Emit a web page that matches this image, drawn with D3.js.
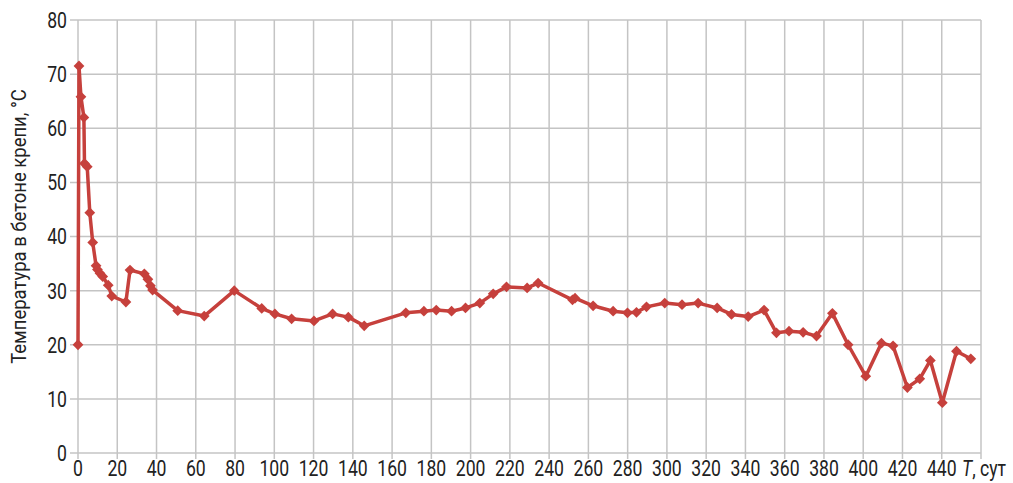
<!DOCTYPE html>
<html>
<head>
<meta charset="utf-8">
<script src="https://cdn.jsdelivr.net/npm/d3@7"></script>
<style>
  html, body { margin: 0; padding: 0; background: #fff; }
  svg { display: block; }
  text { font-family: "Roboto", "Liberation Sans", sans-serif; fill: #222; }
</style>
</head>
<body>
<svg id="chart" width="1013" height="483"></svg>
<script>
// Concrete lining temperature over time (days)
const days = [0, 0.5, 1.5, 3, 3.3, 4.7, 6, 7.5, 9.2, 9.9, 11.2, 12.6, 15.4, 17.2, 24.4, 26.5,
  33.8, 35.6, 36.9, 38, 50.8, 64.3, 79.6, 93.6, 100.3, 108.8, 120.2, 129.7, 137.7, 145.8,
  167, 176.2, 182.5, 190.3, 197.4, 204.7, 211.5, 218.3, 228.8, 234.4, 251.9, 253.2, 262.4,
  272.6, 279.9, 284.5, 289.6, 298.9, 307.7, 315.9, 325.6, 332.9, 341.4, 349.5, 355.8, 362.2,
  369.4, 376.2, 384.3, 392.3, 401.3, 409.3, 415.2, 422.5, 428.8, 434.2, 440.3, 447.5, 454.8];
const temps = [20, 71.5, 65.8, 62.0, 53.5, 52.9, 44.4, 38.9, 34.6, 33.9, 33.2, 32.6, 31.0, 29.0, 27.9, 33.8,
  33.1, 32.1, 30.9, 30.1, 26.3, 25.3, 30.0, 26.7, 25.7, 24.8, 24.4, 25.7, 25.1, 23.5,
  25.9, 26.2, 26.4, 26.2, 26.8, 27.7, 29.4, 30.7, 30.5, 31.4, 28.3, 28.6, 27.2,
  26.2, 25.9, 26.0, 27.0, 27.7, 27.4, 27.7, 26.8, 25.6, 25.2, 26.4, 22.2, 22.5,
  22.3, 21.6, 25.8, 20.0, 14.2, 20.3, 19.8, 12.1, 13.7, 17.1, 9.3, 18.8, 17.4];
const xTicks = d3.range(0, 461, 20);
const yTicks = d3.range(0, 81, 10);
const yTitle = "Температура в бетоне крепи, °С";
const xUnit = ", сут";

const svg = d3.select("#chart");
const m = { left: 78, right: 981, top: 20, bottom: 453 };
const x = d3.scaleLinear().domain([0, 460]).range([m.left, m.right]);
const y = d3.scaleLinear().domain([0, 80]).range([m.bottom, m.top]);
const gridColor = "#c4c4c4";
const squeeze = 0.8; // condensed look for tick labels

// grid
svg.append("g").selectAll("line").data(xTicks).join("line")
  .attr("x1", d => x(d)).attr("x2", d => x(d))
  .attr("y1", m.top).attr("y2", m.bottom + 6)
  .attr("stroke", gridColor).attr("stroke-width", 1.5);
svg.append("g").selectAll("line").data(yTicks).join("line")
  .attr("x1", m.left - 8).attr("x2", m.right)
  .attr("y1", d => y(d)).attr("y2", d => y(d))
  .attr("stroke", gridColor).attr("stroke-width", 1.5);

// tick labels
svg.append("g").selectAll("text").data(yTicks).join("text")
  .attr("transform", d => `translate(${m.left - 11},${y(d)}) scale(${squeeze},1)`)
  .attr("dy", "0.36em").attr("text-anchor", "end")
  .style("font-size", "22px").text(d => d);
svg.append("g").selectAll("text").data(xTicks.filter(d => d < 460)).join("text")
  .attr("transform", d => `translate(${x(d)},476) scale(${squeeze},1)`)
  .attr("text-anchor", "middle")
  .style("font-size", "22px").text(d => d);
const unit = svg.append("text")
  .attr("transform", `translate(${x(460) + 3},476) scale(${squeeze},1)`)
  .attr("text-anchor", "middle").style("font-size", "22px");
unit.append("tspan").style("font-style", "italic").text("T");
unit.append("tspan").text(xUnit);

// axis title
svg.append("text")
  .attr("transform", `translate(26,${(m.top + m.bottom) / 2 - 10}) rotate(-90) scale(0.88,1)`)
  .attr("text-anchor", "middle")
  .style("font-size", "21px").text(yTitle);

// series
const pts = days.map((d, i) => [d, temps[i]]);
const color = "#c6403c";
svg.append("path").datum(pts)
  .attr("fill", "none").attr("stroke", color).attr("stroke-width", 3.5)
  .attr("stroke-linejoin", "round")
  .attr("d", d3.line().x(d => x(d[0])).y(d => y(d[1])));
svg.append("g").selectAll("path").data(pts).join("path")
  .attr("transform", d => `translate(${x(d[0])},${y(d[1])}) rotate(45)`)
  .attr("d", d3.symbol(d3.symbolSquare, 58))
  .attr("fill", color);
</script>
</body>
</html>
